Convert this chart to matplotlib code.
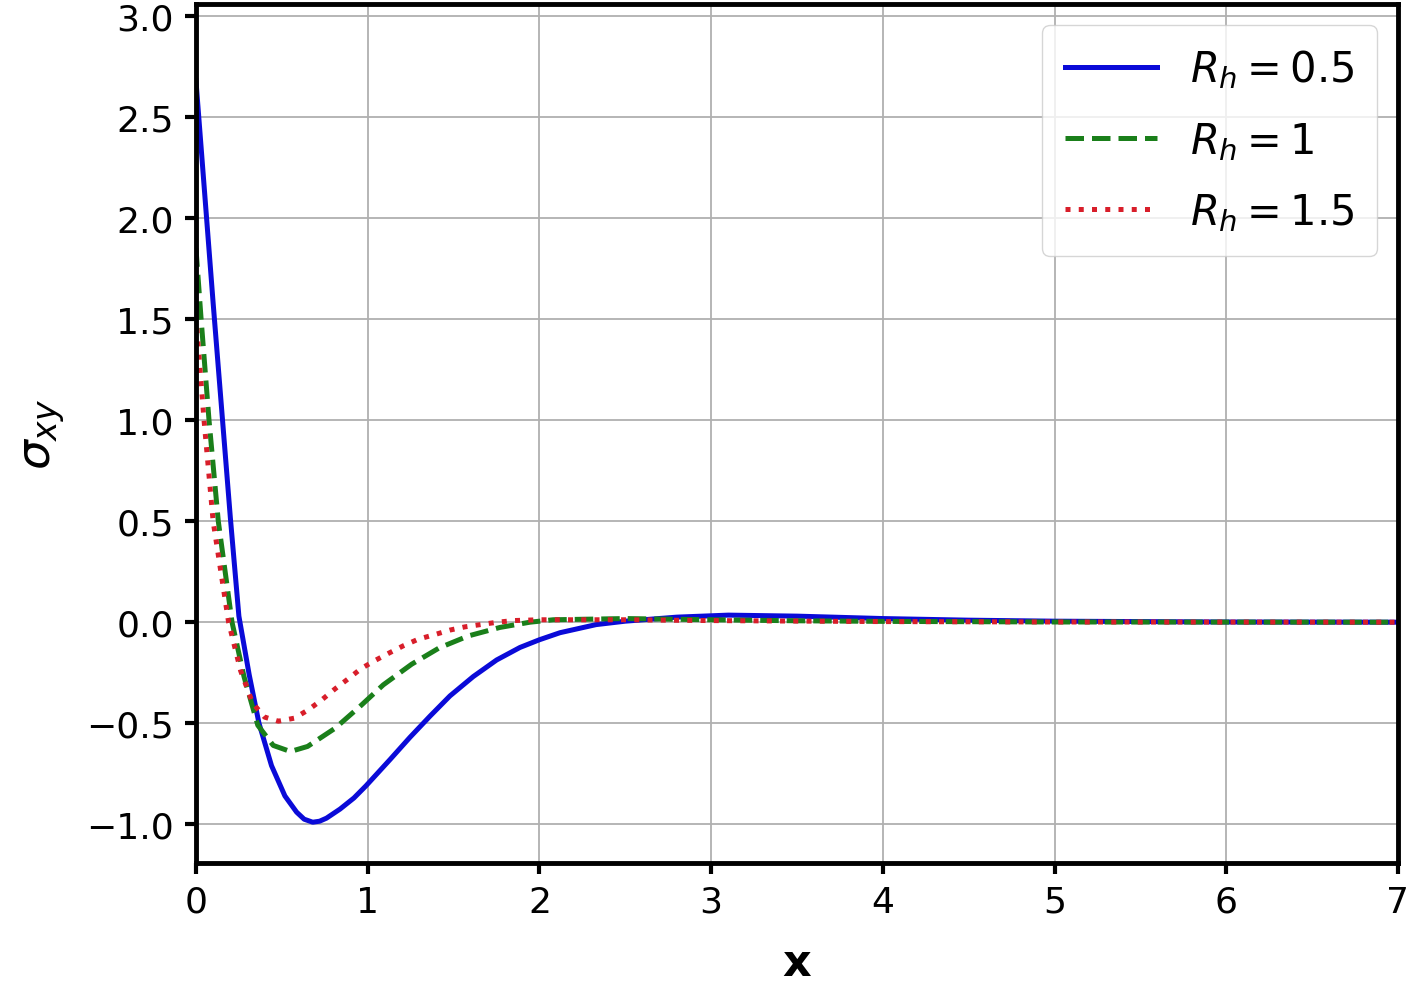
import numpy as np
from matplotlib import pyplot as plt

# Values
x_05 = [0.0, 0.05, 0.1, 0.15, 0.2, 0.25, 0.31, 0.367, 0.44, 0.518, 0.586, 0.63, 0.68, 0.72, 0.76,
        0.839, 0.92, 0.99, 1.13, 1.246, 1.363, 1.479, 1.615, 1.751, 1.887, 2.0, 2.12, 2.33,
        2.5, 2.8, 3.1, 3.5, 4.0, 4.5, 5.0, 6.0, 7.0]
y_05 = [2.68, 2.13, 1.58, 1.05, 0.52, 0.03, -0.26, -0.5, -0.71, -0.86, -0.94, -0.975, -0.99, -0.985, -0.97,
        -0.925, -0.87, -0.81, -0.68, -0.57, -0.465, -0.365, -0.269, -0.187, -0.125, -0.087, -0.052, -0.012,
        0.005, 0.025, 0.035, 0.03, 0.018, 0.01, 0.005, 0.001, 0.0]

x_1 = [0.0, 0.03, 0.076, 0.13, 0.21, 0.28, 0.36, 0.45, 0.55, 0.65, 0.81, 0.955, 1.091,
       1.256, 1.417, 1.586, 1.77, 1.945, 2.08, 2.5, 3.0, 3.5, 4.0, 5.0, 7.0]
y_1 = [1.85, 1.5, 1.0, 0.5, 0.0, -0.27, -0.51, -0.61, -0.64, -0.615, -0.525, -0.417, -0.31,
       -0.208, -0.127, -0.068, -0.026, 0.0, 0.012, 0.018, 0.012, 0.007, 0.004, 0.001, 0.0]

x_15 = [0.0, 0.01, 0.047, 0.1, 0.19, 0.26, 0.33, 0.4, 0.48, 0.573, 0.654, 0.732, 0.81, 0.887,
        0.961, 1.042, 1.124, 1.207, 1.295, 1.388, 1.479, 1.567, 1.664, 1.757, 1.848, 2.0,
        2.5, 3.0, 4.0, 5.0, 7.0]
y_15 = [1.52, 1.4, 1.0, 0.5, 0.0, -0.24, -0.4, -0.47, -0.49, -0.475, -0.434, -0.385, -0.33, -0.28,
        -0.23, -0.19, -0.153, -0.117, -0.084, -0.062, -0.039, -0.023, -0.011, 0.0, 0.008, 0.012,
        0.012, 0.008, 0.003, 0.001, 0.0]

labels = ['$R_h = 0.5$', '$R_h = 1$', '$R_h = 1.5$']

fig = plt.figure(figsize=(14.2, 9.87), dpi=100)
ax = fig.add_axes([0.138, 0.125, 0.8465, 0.87])

ax.plot(x_05, y_05, color='#0a0ad8', linestyle='-', linewidth=3.6, label=labels[0])
ax.plot(x_1, y_1, color='#1a7f1a', linestyle='--', linewidth=3.6, label=labels[1])
ax.plot(x_15, y_15, color='#d81e2a', linestyle=':', linewidth=3.6, label=labels[2])

ax.set_xlim(0, 7)
ax.set_ylim(-1.19, 3.06)
ax.set_xticks(np.arange(0, 8, 1))
ax.set_yticks(np.arange(-1.0, 3.01, 0.5))
ax.grid(True, color='#b0b0b0', linewidth=1.3)

for s in ax.spines.values():
    s.set_linewidth(3.5)
ax.tick_params(axis='both', labelsize=26, length=8, width=3, pad=8)

ax.set_xlabel('x', fontsize=32, fontweight='bold', labelpad=16)
ax.set_ylabel(r'$\sigma_{xy}$', fontsize=34, labelpad=14)

ax.legend(loc='upper right', fontsize=30, handlelength=2.2, labelspacing=0.7,
          borderpad=0.55, borderaxespad=0.5, framealpha=0.8)

fig.savefig('out.png', dpi=100)
